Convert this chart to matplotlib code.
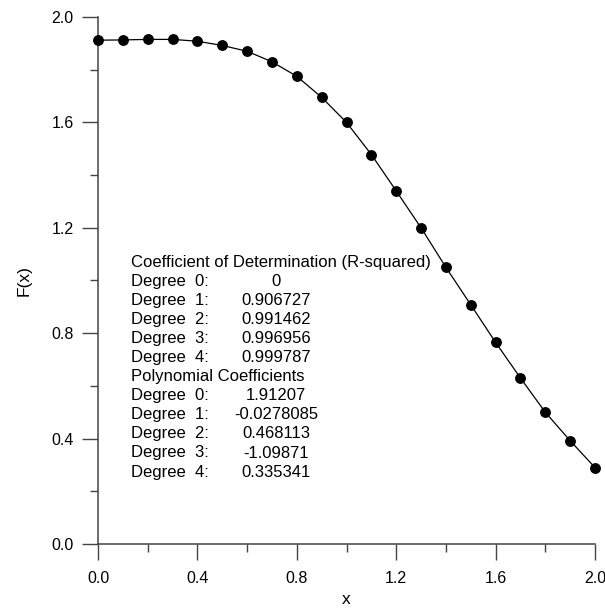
import matplotlib
matplotlib.use("Agg")
import matplotlib.pyplot as plt
from matplotlib.ticker import MultipleLocator

plt.rcParams['font.family'] = ['Liberation Sans', 'DejaVu Sans']

x_vals = [0.0, 0.1, 0.2, 0.3, 0.4, 0.5, 0.6, 0.7, 0.8, 0.9, 1.0,
          1.1, 1.2, 1.3, 1.4, 1.5, 1.6, 1.7, 1.8, 1.9, 2.0]
f_vals = [1.912, 1.913, 1.915, 1.915, 1.908, 1.892, 1.870, 1.830, 1.775,
          1.695, 1.600, 1.478, 1.340, 1.200, 1.050, 0.908, 0.765, 0.630,
          0.500, 0.392, 0.290]

x_ticks = [0.0, 0.4, 0.8, 1.2, 1.6, 2.0]
y_ticks = [0.0, 0.4, 0.8, 1.2, 1.6, 2.0]

r2_labels = ["Degree  0:", "Degree  1:", "Degree  2:", "Degree  3:", "Degree  4:"]
r2_values = ["0", "0.906727", "0.991462", "0.996956", "0.999787"]
coef_labels = ["Degree  0:", "Degree  1:", "Degree  2:", "Degree  3:", "Degree  4:"]
coef_values = ["1.91207", "-0.0278085", "0.468113", "-1.09871", "0.335341"]

fig = plt.figure(figsize=(6.05, 6.10), dpi=100)
ax = fig.add_axes([98/605, 1 - 544/610, (595-98)/605, (544-17)/610])

ax.plot(x_vals, f_vals, color='black', lw=0.9, marker='o', markersize=6.8,
        markerfacecolor='black', markeredgecolor='black', clip_on=False, zorder=3)

ax.set_xlim(0, 2.0)
ax.set_ylim(0, 2.0)
ax.set_xticks(x_ticks)
ax.set_yticks(y_ticks)
ax.set_xticklabels([f"{v:.1f}" for v in x_ticks])
ax.set_yticklabels([f"{v:.1f}" for v in y_ticks])
ax.xaxis.set_minor_locator(MultipleLocator(0.2))
ax.yaxis.set_minor_locator(MultipleLocator(0.2))

for s in ['top', 'right']:
    ax.spines[s].set_visible(False)
for s in ['left', 'bottom']:
    ax.spines[s].set_color('#444444')
    ax.spines[s].set_linewidth(1.1)

ax.tick_params(which='major', direction='out', length=11.5, width=1.0,
               color='#444444', labelsize=11.5, pad=6)
ax.tick_params(axis='x', which='major', pad=8)
ax.tick_params(which='minor', direction='out', length=5.8, width=1.0,
               color='#444444')

ax.set_xlabel('x', fontsize=12.5, labelpad=4)
ax.set_ylabel('F(x)', fontsize=12.5, labelpad=14)

def fy(py):
    return 1 - py / 610

lx = 131 / 605
vx = 276 / 605
y0 = 262
dy = 19.1
fig.text(lx, fy(y0), "Coefficient of Determination (R-squared)", fontsize=12,
         va='center', ha='left')
for i, (lab, val) in enumerate(zip(r2_labels, r2_values)):
    yy = fy(y0 + dy * (i + 1))
    fig.text(lx, yy, lab, fontsize=12, va='center', ha='left')
    fig.text(vx, yy, val, fontsize=12, va='center', ha='center')
fig.text(lx, fy(y0 + dy * 6), "Polynomial Coefficients", fontsize=12,
         va='center', ha='left')
for i, (lab, val) in enumerate(zip(coef_labels, coef_values)):
    yy = fy(y0 + dy * (i + 7))
    fig.text(lx, yy, lab, fontsize=12, va='center', ha='left')
    fig.text(vx, yy, val, fontsize=12, va='center', ha='center')

fig.savefig('out.png', dpi=100)
